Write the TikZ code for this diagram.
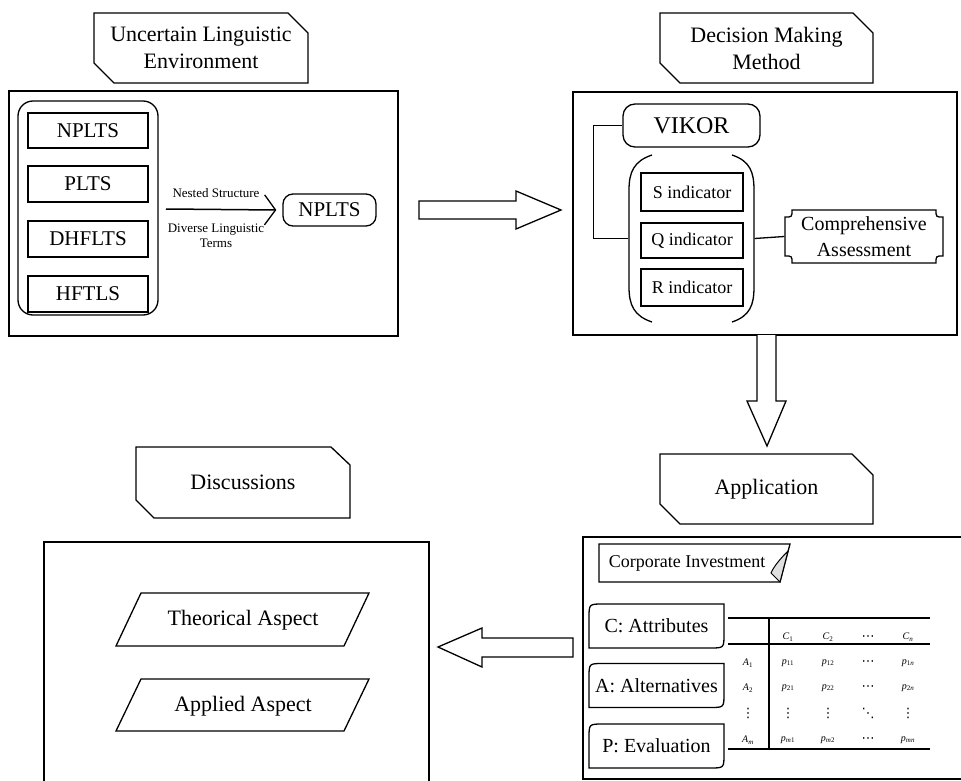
\documentclass[tikz,border=0pt]{standalone}
\usepackage{fontspec}
\setmainfont{Liberation Serif}
\newfontfamily\dejavu{DejaVu Sans}
\usetikzlibrary{arrows.meta}
\begin{document}
\begin{tikzpicture}[x=1pt,y=-1pt,line width=1.2pt,
  big/.style={font=\fontsize{22}{27}\selectfont,align=center,inner sep=0pt},
  mid/.style={font=\fontsize{20}{26}\selectfont,align=center,inner sep=0pt},
  ind/.style={font=\fontsize{18}{22}\selectfont,align=center,inner sep=0pt},
  lab/.style={font=\fontsize{13}{15}\selectfont,align=center,inner sep=0pt},
  tab/.style={font=\fontsize{10}{12}\selectfont,inner sep=0pt},
  tabdots/.style={font=\dejavu\fontsize{13}{14}\selectfont,inner sep=0pt},
  frame/.style={draw,line width=1.3pt},
  sbox/.style={draw,line width=1.3pt,inner sep=0pt},
  hollow/.style={draw,line width=1.3pt,fill=white,line join=miter}]
\useasboundingbox (0,0) rectangle (961,781);

% ---------------- titles ----------------
\draw[frame] (94,13) -- (288,13) -- (308,33) -- (308,83) -- (114,83) -- (94,63) -- cycle;
\node[big,minimum width=214,minimum height=70] (t1) at (201,48) {Uncertain Linguistic\\Environment};
\draw[frame] (660,13) -- (853,13) -- (873,33) -- (873,83) -- (680,83) -- (660,63) -- cycle;
\node[big,minimum width=213,minimum height=70] (t2) at (766.5,48) {Decision Making\\Method};
\draw[frame] (660,454) -- (852,454) -- (873,475) -- (873,524) -- (680,524) -- (660,504) -- cycle;
\node[big,minimum width=213,minimum height=70] (t3) at (766.5,489) {Application};
\draw[frame] (136,447) -- (331,447) -- (350,465) -- (350,518) -- (154,518) -- (136,500) -- cycle;
\node[big,minimum width=214,minimum height=71] (t4) at (243,482.5) {Discussions};

% ---------------- box 1 ----------------
\node[sbox,minimum width=389,minimum height=245] (b1) at (203.5,213.5) {};
\node[sbox,rounded corners=15,minimum width=140,minimum height=214] (grp) at (88,208) {};
\node[sbox,minimum width=120,minimum height=35,font=\fontsize{21}{25}\selectfont] (n1) at (88,130.5) {NPLTS};
\node[sbox,minimum width=120,minimum height=36,font=\fontsize{21}{25}\selectfont] (n2) at (88,184) {PLTS};
\node[sbox,minimum width=120,minimum height=36,font=\fontsize{21}{25}\selectfont] (n3) at (88,239) {DHFLTS};
\node[sbox,minimum width=120,minimum height=36,font=\fontsize{21}{25}\selectfont] (n4) at (88,294) {HFTLS};
\node[sbox,rounded corners=10,minimum width=93,minimum height=32,font=\fontsize{21}{25}\selectfont] (np) at (329.5,210) {NPLTS};
\coordinate (as) at (166,209);
\draw[-{Straight Barb[length=11pt,width=30pt,line width=1.3pt]},line width=1.5pt] (as) -- ([xshift=-6]np.west);
\node[lab] (ns) at (216,193) {Nested Structure};
\node[lab] (dl) at (216,236) {Diverse Linguistic\\Terms};

% hollow arrow right
\draw[hollow] (419,201) -- (516,201) -- (516,191) -- (561,210) -- (516,229) -- (516,219) -- (419,219) -- cycle;

% ---------------- box 2 ----------------
\node[sbox,minimum width=384,minimum height=243] (b2) at (765,213.5) {};
\node[sbox,rounded corners=12,minimum width=137,minimum height=43,font=\fontsize{24}{28}\selectfont] (vk) at (691.5,125.5) {VIKOR};
\node[inner sep=0pt,minimum width=125,minimum height=167] (brk) at (691.5,238.5) {};
\draw[line width=1.3pt] (652,155) .. controls (634,161) and (629,172) .. (629,190) -- (629,287) .. controls (629,305) and (634,316) .. (652,322);
\draw[line width=1.3pt] (732,155) .. controls (750,161) and (754,172) .. (754,190) -- (754,287) .. controls (754,305) and (750,316) .. (732,322);
\node[sbox,ind,minimum width=102,minimum height=38] (si) at (692,192) {S indicator};
\node[sbox,ind,minimum width=102,minimum height=35] (qi) at (692,240.5) {Q indicator};
\node[sbox,ind,minimum width=102,minimum height=37] (ri) at (692,287.5) {R indicator};
\draw[frame] (792,210) -- (936,210) .. controls (936,217) .. (943,217) -- (943,256) .. controls (936,256) .. (936,263) -- (792,263) .. controls (792,256) .. (785,256) -- (785,217) .. controls (792,217) .. (792,210) -- cycle;
\node[mid,minimum width=158,minimum height=53] (ca) at (864,236.5) {Comprehensive\\Assessment};
\draw[line width=1.3pt] (vk.west) -- ++(-29,0) |- (brk.west);
\draw[line width=1.3pt] (brk.east) -- (ca.west);

% hollow arrow down
\draw[hollow] (757,335) -- (757,401) -- (747,401) -- (767,446) -- (786,401) -- (776,401) -- (776,335);

% ---------------- box 3 ----------------
\node[sbox,minimum width=397,minimum height=242] (b3) at (781.5,658) {};
\draw[frame] (599,544) -- (790,544) -- (780,582) -- (599,582) -- cycle;
\draw[line width=1pt,fill=gray!25] (788,551) .. controls (781,558) and (774,566) .. (771,573) -- (780,582) -- cycle;
\node[ind,minimum width=170,minimum height=38] (ci) at (687,563) {Corporate Investment};
\foreach \nm/\yy/\tx in {ca1/626/{C: Attributes},aa1/685.5/{A: Alternatives},pa1/746/{P: Evaluation}}{
  \draw[frame] (589,\yy+22) -- (589,\yy-8) .. controls (589,\yy-22) .. (603,\yy-22) -- (724,\yy-22) -- (724,\yy+8) .. controls (724,\yy+22) .. (710,\yy+22) -- cycle;
  \node[mid,minimum width=135,minimum height=44] (\nm) at (656.5,\yy) {\tx};
}
% table
\coordinate (tl1) at (728,618); \coordinate (tr1) at (930,618);
\coordinate (tl2) at (728,644); \coordinate (tr2) at (930,644);
\coordinate (tl3) at (728,749); \coordinate (tr3) at (930,749);
\coordinate (vt) at (769,618); \coordinate (vb) at (769,749);
\draw[line width=1.1pt] (tl1) -- (tr1);
\draw[line width=1.1pt] (tl2) -- (tr2);
\draw[line width=1.1pt] (tl3) -- (tr3);
\draw[line width=1.1pt] (vt) -- (vb);
\node[tab] (h1) at (788,637) {\textit{C}\textsubscript{1}};
\node[tab] (h2) at (828,637) {\textit{C}\textsubscript{2}};
\node[tabdots] (h3) at (868,638) {⋯};
\node[tab] (h4) at (908,637) {\textit{C}\textsubscript{\textit{n}}};
\node[tab] (r1a) at (748,663) {\textit{A}\textsubscript{1}};
\node[tab] (r1b) at (788,663) {\textit{p}\textsubscript{11}};
\node[tab] (r1c) at (828,663) {\textit{p}\textsubscript{12}};
\node[tabdots] (r1d) at (868,663) {⋯};
\node[tab] (r1e) at (908,663) {\textit{p}\textsubscript{1\textit{n}}};
\node[tab] (r2a) at (748,688) {\textit{A}\textsubscript{2}};
\node[tab] (r2b) at (788,688) {\textit{p}\textsubscript{21}};
\node[tab] (r2c) at (828,688) {\textit{p}\textsubscript{22}};
\node[tabdots] (r2d) at (868,688) {⋯};
\node[tab] (r2e) at (908,688) {\textit{p}\textsubscript{2\textit{n}}};
\node[tabdots] (r3a) at (748,713) {⋮};
\node[tabdots] (r3b) at (788,713) {⋮};
\node[tabdots] (r3c) at (828,713) {⋮};
\node[tabdots] (r3d) at (868,713) {⋱};
\node[tabdots] (r3e) at (908,713) {⋮};
\node[tab] (r4a) at (748,740) {\textit{A}\textsubscript{\textit{m}}};
\node[tab] (r4b) at (788,740) {\textit{p}\textsubscript{\textit{m}1}};
\node[tab] (r4c) at (828,740) {\textit{p}\textsubscript{\textit{m}2}};
\node[tabdots] (r4d) at (868,740) {⋯};
\node[tab] (r4e) at (908,740) {\textit{p}\textsubscript{\textit{mn}}};

% hollow arrow left
\draw[hollow] (573,638) -- (482,638) -- (482,628) -- (438,647) -- (482,667) -- (482,657) -- (573,657) -- cycle;

% ---------------- box 4 ----------------
\node[sbox,minimum width=385,minimum height=258] (b4) at (236.5,671) {};
\draw[frame] (141,593) -- (369,593) -- (344,646) -- (116,646) -- cycle;
\node[big,minimum width=200,minimum height=53] (th) at (243,620) {Theorical Aspect};
\draw[frame] (141,679) -- (369,679) -- (344,731) -- (116,731) -- cycle;
\node[big,minimum width=200,minimum height=52] (ap) at (243,706) {Applied Aspect};
\end{tikzpicture}
\end{document}
